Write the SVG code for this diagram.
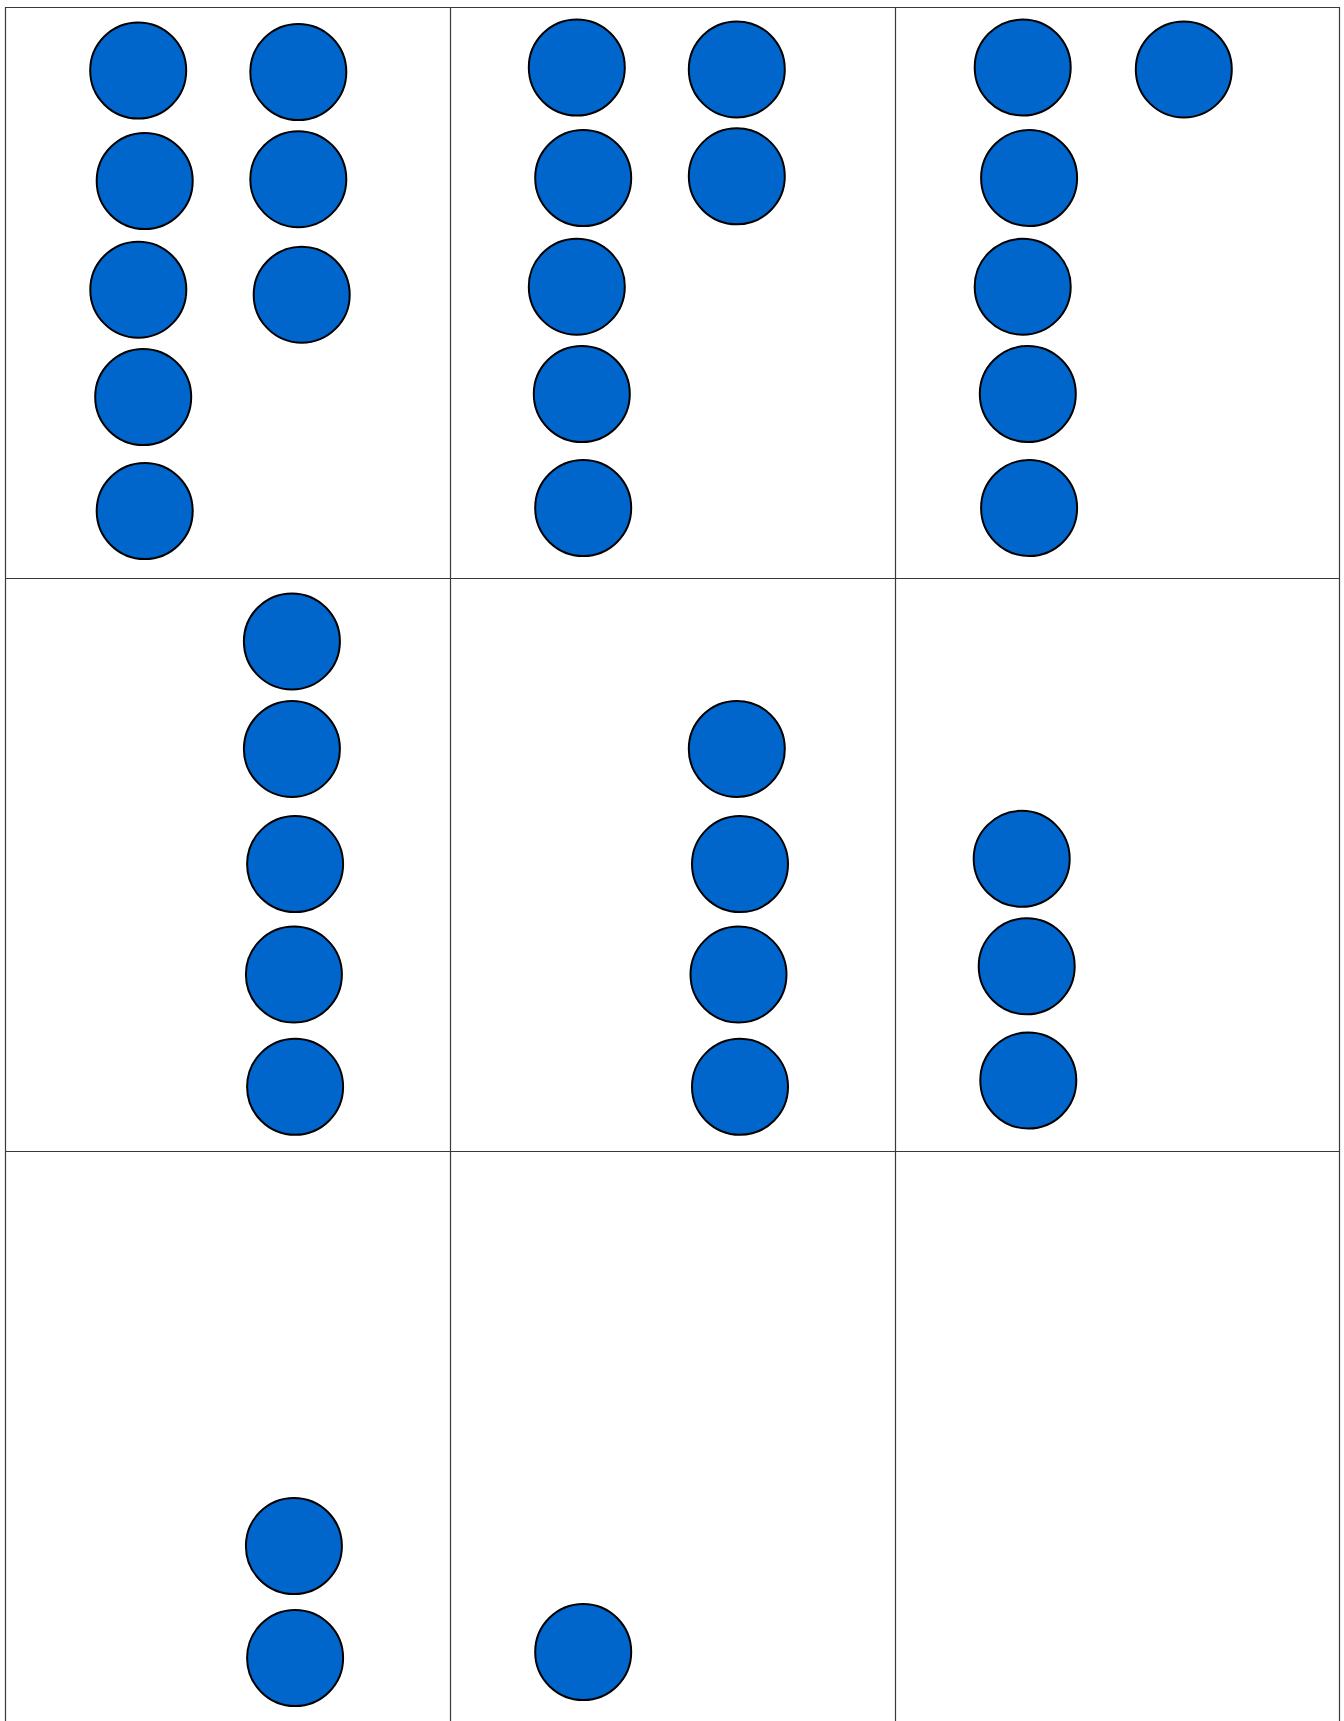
<svg xmlns="http://www.w3.org/2000/svg" width="1344" height="1721" viewBox="0 0 1344 1721">
<style>
.grid{stroke:#3a3a3a;stroke-width:1.2;fill:none}
.dot{fill:#0066CC;stroke:#000;stroke-width:2}
</style>
<rect width="1344" height="1721" fill="#fff"/>
<g id="grid">
<line class="grid" x1="5" y1="7.5" x2="1340" y2="7.5"/>
<line class="grid" x1="5" y1="578.5" x2="1340" y2="578.5"/>
<line class="grid" x1="5" y1="1151.5" x2="1340" y2="1151.5"/>
<line class="grid" x1="5.5" y1="7" x2="5.5" y2="1721"/>
<line class="grid" x1="450.5" y1="7" x2="450.5" y2="1721"/>
<line class="grid" x1="895.5" y1="7" x2="895.5" y2="1721"/>
<line class="grid" x1="1339.5" y1="7" x2="1339.5" y2="1721"/>
</g>
<g id="cell-1-1">
<circle class="dot" cx="138.2" cy="70.5" r="48"/>
<circle class="dot" cx="144.7" cy="181" r="48"/>
<circle class="dot" cx="138.3" cy="289.7" r="48"/>
<circle class="dot" cx="143.2" cy="397" r="48"/>
<circle class="dot" cx="144.7" cy="511" r="48"/>
<circle class="dot" cx="298.3" cy="72" r="48"/>
<circle class="dot" cx="298.3" cy="179.2" r="48"/>
<circle class="dot" cx="301.7" cy="294.7" r="48"/>
</g>
<g id="cell-1-2">
<circle class="dot" cx="576.8" cy="67.5" r="48"/>
<circle class="dot" cx="583.2" cy="178" r="48"/>
<circle class="dot" cx="576.8" cy="286.7" r="48"/>
<circle class="dot" cx="581.8" cy="394" r="48"/>
<circle class="dot" cx="583.2" cy="508" r="48"/>
<circle class="dot" cx="736.8" cy="69.4" r="48"/>
<circle class="dot" cx="736.8" cy="176.3" r="48"/>
</g>
<g id="cell-1-3">
<circle class="dot" cx="1022.7" cy="67.5" r="48"/>
<circle class="dot" cx="1029.1" cy="178" r="48"/>
<circle class="dot" cx="1022.7" cy="286.7" r="48"/>
<circle class="dot" cx="1027.8" cy="394" r="48"/>
<circle class="dot" cx="1029.1" cy="508" r="48"/>
<circle class="dot" cx="1183.8" cy="69.4" r="48"/>
</g>
<g id="cell-2-1">
<circle class="dot" cx="291.9" cy="641.4" r="48"/>
<circle class="dot" cx="291.9" cy="748.9" r="48"/>
<circle class="dot" cx="295.1" cy="864.1" r="48"/>
<circle class="dot" cx="293.9" cy="974.6" r="48"/>
<circle class="dot" cx="295.1" cy="1086.8" r="48"/>
</g>
<g id="cell-2-2">
<circle class="dot" cx="736.8" cy="748.9" r="48"/>
<circle class="dot" cx="740" cy="864.1" r="48"/>
<circle class="dot" cx="738.5" cy="974.6" r="48"/>
<circle class="dot" cx="740" cy="1086.8" r="48"/>
</g>
<g id="cell-2-3">
<circle class="dot" cx="1021.7" cy="858.8" r="48"/>
<circle class="dot" cx="1026.7" cy="966.3" r="48"/>
<circle class="dot" cx="1028.3" cy="1080.5" r="48"/>
</g>
<g id="cell-3-1">
<circle class="dot" cx="293.9" cy="1546" r="48"/>
<circle class="dot" cx="295.1" cy="1658" r="48"/>
</g>
<g id="cell-3-2">
<circle class="dot" cx="583.2" cy="1652" r="48"/>
</g>
<g id="connectors"/>
</svg>
